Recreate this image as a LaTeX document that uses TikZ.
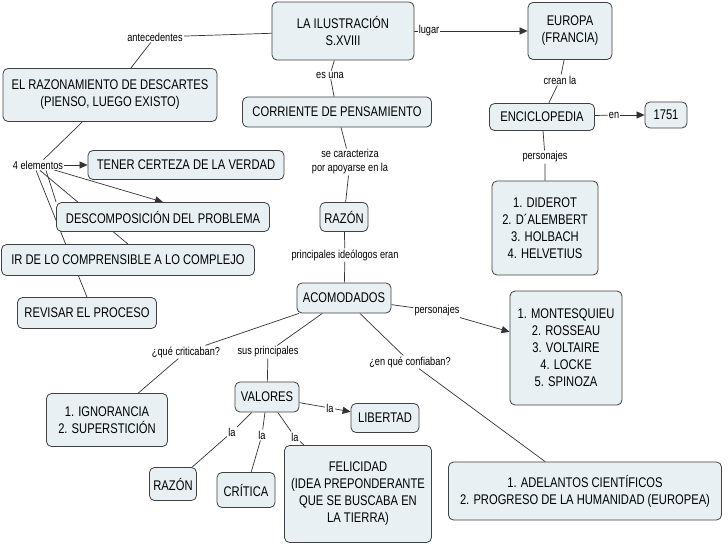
\documentclass[tikz,border=0pt]{standalone}
\usepackage{fontspec}
\setmainfont[FakeStretch=0.8]{Liberation Sans}
\usetikzlibrary{backgrounds,arrows.meta}
\definecolor{boxfill}{RGB}{232,240,243}
\begin{document}
\begin{tikzpicture}[x=1pt,y=-1pt,
  box/.style={draw=black!75,fill=boxfill,rounded corners=5pt,align=center,font=\fontsize{14}{17}\selectfont,inner sep=2pt,line width=0.8pt},
  lab/.style={fill=white,align=center,font=\fontsize{11.5}{14}\selectfont,inner sep=1pt},
  ln/.style={draw=black!80,line width=0.7pt},
  ar/.style={ln,-{Triangle[length=8pt,width=7pt]}}]
\useasboundingbox (0,0) rectangle (728,546);
\def\B(#1,#2,#3,#4,#5)#6{\node[box,minimum width=#4pt,minimum height=#5pt] (#1) at (#2,#3) {#6};}
\B(ilus,343,31,142,58){LA ILUSTRACIÓN\\S.XVIII}
\B(europa,570,31,84,57){EUROPA\\(FRANCIA)}
\B(desc,110,95,214,53){EL RAZONAMIENTO DE DESCARTES\\(PIENSO, LUEGO EXISTO)}
\B(corr,337,112,189,30){CORRIENTE DE PENSAMIENTO}
\B(enc,542,117,105,27){ENCICLOPEDIA}
\B(year,666,115,42,26){1751}
\B(tener,186,165,196,29){TENER CERTEZA DE LA VERDAD}
\B(razon,344,217,48,29){RAZÓN}
\B(descomp,163,217,213,29){DESCOMPOSICIÓN DEL PROBLEMA}
\B(pers,545,228,106,94){1. DIDEROT\\2. D´ALEMBERT\\3. HOLBACH\\4. HELVETIUS}
\B(ir,128,260,253,31){IR DE LO COMPRENSIBLE A LO COMPLEJO}
\B(rev,87,313,139,31){REVISAR EL PROCESO}
\B(acom,344,298,94,30){ACOMODADOS}
\B(mont,566,348,112,114){1. MONTESQUIEU\\2. ROSSEAU\\3. VOLTAIRE\\4. LOCKE\\5. SPINOZA}
\B(val,267,397,64,30){VALORES}
\B(lib,385,418,68,29){LIBERTAD}
\B(ign,107,420,121,53){1. IGNORANCIA\\2. SUPERSTICIÓN}
\B(raz2,173,484,47,33){RAZÓN}
\B(crit,246,490,58,35){CRÍTICA}
\B(fel,358,494,147,97){FELICIDAD\\(IDEA PREPONDERANTE\\QUE SE BUSCABA EN\\LA TIERRA)}
\B(adel,585,491,273,58){1. ADELANTOS CIENTÍFICOS\\2. PROGRESO DE LA HUMANIDAD (EUROPEA)}
\node[lab] (l1) at (155,37) {antecedentes};
\node[lab] (l2) at (429,31) {lugar};
\node[lab] (l3) at (330,75) {es una};
\node[lab] (l4) at (560,80) {crean la};
\node[lab] (l5) at (614,115) {en};
\node[lab] (l6) at (545,157) {personajes};
\node[lab] (l7) at (350,162) {se caracteriza\\por apoyarse en la};
\node[lab] (l8) at (38,165) {4 elementos};
\node[lab] (l9) at (345,255) {principales ideólogos eran};
\node[lab] (l10) at (437,311) {personajes};
\node[lab] (l11) at (186,352) {¿qué criticaban?};
\node[lab] (l12) at (268,352) {sus principales};
\node[lab] (l13) at (410,362) {¿en qué confiaban?};
\node[lab] (l14) at (330,408) {la};
\node[lab] (l15) at (232,432) {la};
\node[lab] (l16) at (262,435) {la};
\node[lab] (l17) at (295,437) {la};
\begin{scope}[on background layer]
\fill[white] (0,0) rectangle (728,546);
\draw[ln] (ilus) -- (l1) -- (desc);
\draw[ln] (ilus) -- (l2); \draw[ar] (l2) -- (europa);
\draw[ln] (ilus) -- (l3) -- (corr);
\draw[ln] (europa) -- (l4) -- (enc);
\draw[ln] (enc) -- (l5); \draw[ar] (l5) -- (year);
\draw[ln] (enc) -- (l6) -- (pers);
\draw[ln] (corr) -- (l7) -- (razon);
\draw[ln] (desc) -- (l8);
\draw[ar] (l8) -- (tener);
\draw[ar] (l8.east) ++(-20,2) coordinate (c1) -- (descomp.north);
\draw[ln] (l8.south) ++(8,0) coordinate (c2) -- (descomp.north west);
\draw[ln] (l8.south) ++(2,0) coordinate (c3) -- (ir.north);
\draw[ln] (l8.south) ++(-2,0) coordinate (c4) -- (rev.north);
\draw[ln] (razon) -- (l9) -- (acom);
\draw[ln] (acom) -- (l10); \draw[ar] (l10) -- (mont);
\draw[ln] (acom) -- (l11) -- (ign);
\draw[ln] (acom) -- (l12) -- (val);
\draw[ln] (acom) -- (l13) -- (adel);
\draw[ln] (val) -- (l14); \draw[ar] (l14) -- (lib);
\draw[ln] (val) -- (l15) -- (raz2);
\draw[ln] (val) -- (l16) -- (crit);
\draw[ln] (val) -- (l17) -- (fel);
\end{scope}
\end{tikzpicture}
\end{document}
